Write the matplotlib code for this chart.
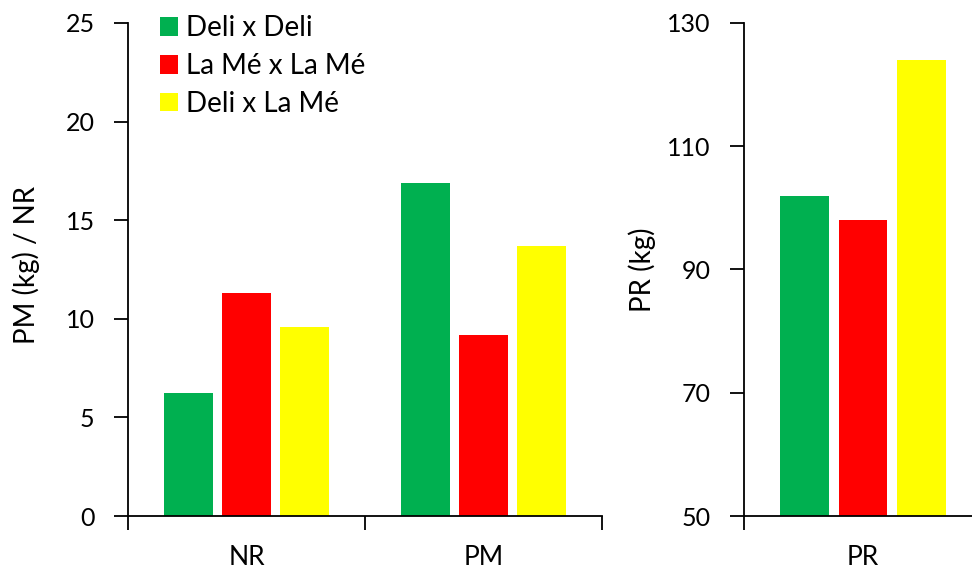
import matplotlib.pyplot as plt
from matplotlib.ticker import FixedLocator
import numpy as np

plt.rcParams['font.family'] = ['Lato', 'DejaVu Sans']

# data
series = ['Deli x Deli', 'La Mé x La Mé', 'Deli x La Mé']
colors = ['#00B050', '#FF0000', '#FFFF00']
left_cats = ['NR', 'PM']
left_vals = [[6.25, 16.9], [11.3, 9.2], [9.6, 13.7]]
right_cats = ['PR']
right_vals = [[102], [98], [124]]

width = 0.205
step = 0.245

fig = plt.figure(figsize=(9.72, 5.72), dpi=100)
ax1 = fig.add_axes([0.1317, 0.0979, 0.4876, 0.862])
ax2 = fig.add_axes([0.7654, 0.0979, 0.2449, 0.862])


def style(ax, cats):
    n = len(cats)
    ax.set_xlim(-0.5, n - 0.5)
    ax.xaxis.set_major_locator(FixedLocator(np.arange(n + 1) - 0.5))
    ax.xaxis.set_minor_locator(FixedLocator(np.arange(n)))
    ax.set_xticklabels([])
    ax.set_xticklabels(cats, minor=True)
    ax.tick_params(axis='x', which='major', direction='out', length=10, width=1.3)
    ax.tick_params(axis='x', which='minor', length=0, pad=21, labelsize=19)
    ax.tick_params(axis='y', direction='out', length=10, width=1.3, labelsize=18, pad=14)
    for s in ['top', 'right']:
        ax.spines[s].set_visible(False)
    for s in ['left', 'bottom']:
        ax.spines[s].set_linewidth(1.3)


for ax, cats, vals in [(ax1, left_cats, left_vals), (ax2, right_cats, right_vals)]:
    x = np.arange(len(cats))
    for i, (name, col) in enumerate(zip(series, colors)):
        ax.bar(x + (i - 1) * step, vals[i], width, color=col, label=name)
    style(ax, cats)

ax1.set_ylim(0, 25)
ax1.set_yticks([0, 5, 10, 15, 20, 25])
ax1.set_ylabel('PM (kg) / NR', fontsize=20)
ax1.yaxis.set_label_coords(-0.185, 0.51)

ax2.set_ylim(50, 130)
ax2.set_yticks([50, 70, 90, 110, 130])
ax2.set_ylabel('PR (kg)', fontsize=20)
ax2.yaxis.set_label_coords(-0.37, 0.5)

ax1.legend(loc='upper left', bbox_to_anchor=(0.0675, 1.016), frameon=False,
           fontsize=20, handlelength=0.65, handleheight=0.65, handletextpad=0.3,
           labelspacing=0.43, borderpad=0, borderaxespad=0)

fig.savefig('out.png', dpi=100)
